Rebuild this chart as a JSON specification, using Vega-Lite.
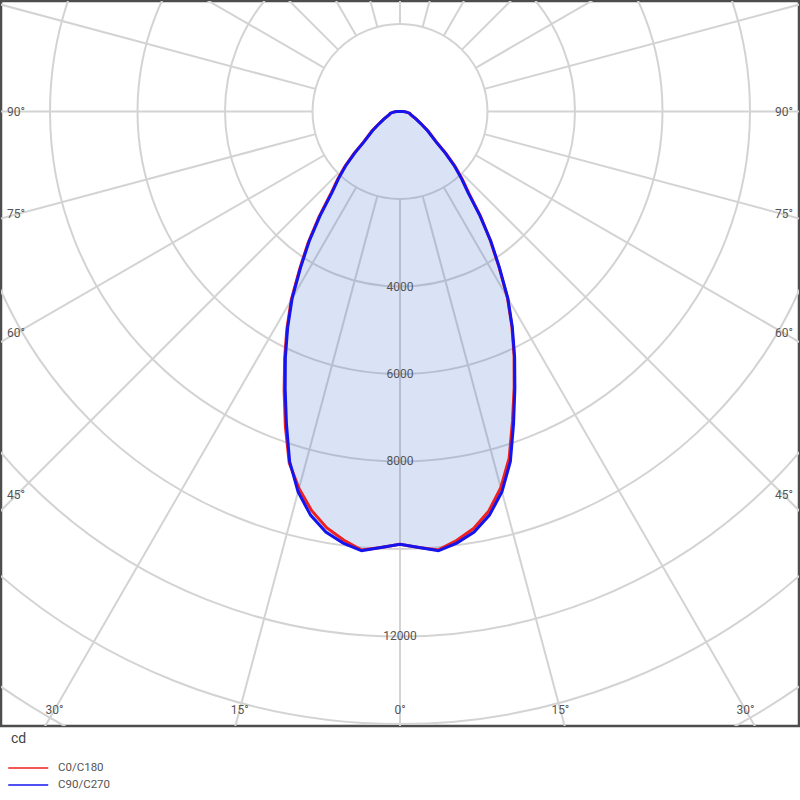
{
  "$schema": "https://vega.github.io/schema/vega-lite/v6.json",
  "width": 798,
  "height": 725,
  "padding": {"left": 1, "top": 1, "right": 1, "bottom": 6},
  "autosize": {"type": "pad"},
  "background": "white",
  "config": {"view": {"stroke": "#4d4d4d", "strokeWidth": 2.5}, "font": "Roboto"},
  "datasets": {
    "curves": [
      {"c": "C0/C180", "t": -180, "i": 0}, {"c": "C0/C180", "t": -90, "i": 80}, {"c": "C0/C180", "t": -85, "i": 150}, {"c": "C0/C180", "t": -80, "i": 220}, {"c": "C0/C180", "t": -75, "i": 250}, {"c": "C0/C180", "t": -70, "i": 300}, {"c": "C0/C180", "t": -65, "i": 410}, {"c": "C0/C180", "t": -60, "i": 550}, {"c": "C0/C180", "t": -55, "i": 790}, {"c": "C0/C180", "t": -50, "i": 1090}, {"c": "C0/C180", "t": -47.5, "i": 1430}, {"c": "C0/C180", "t": -45, "i": 1790}, {"c": "C0/C180", "t": -42.5, "i": 2120}, {"c": "C0/C180", "t": -40, "i": 2470}, {"c": "C0/C180", "t": -37.5, "i": 3050}, {"c": "C0/C180", "t": -35, "i": 3660}, {"c": "C0/C180", "t": -32.5, "i": 4270}, {"c": "C0/C180", "t": -30, "i": 4970}, {"c": "C0/C180", "t": -27.5, "i": 5600}, {"c": "C0/C180", "t": -25, "i": 6240}, {"c": "C0/C180", "t": -22.5, "i": 6920}, {"c": "C0/C180", "t": -20, "i": 7660}, {"c": "C0/C180", "t": -17.5, "i": 8420}, {"c": "C0/C180", "t": -15, "i": 8920}, {"c": "C0/C180", "t": -12.5, "i": 9340}, {"c": "C0/C180", "t": -10, "i": 9660}, {"c": "C0/C180", "t": -7.5, "i": 9880}, {"c": "C0/C180", "t": -5, "i": 10060}, {"c": "C0/C180", "t": -2.5, "i": 9975},
      {"c": "C0/C180", "t": 0, "i": 9890},
      {"c": "C0/C180", "t": 2.5, "i": 9975}, {"c": "C0/C180", "t": 5, "i": 10060}, {"c": "C0/C180", "t": 7.5, "i": 9890}, {"c": "C0/C180", "t": 10, "i": 9680}, {"c": "C0/C180", "t": 12.5, "i": 9360}, {"c": "C0/C180", "t": 15, "i": 8900}, {"c": "C0/C180", "t": 17.5, "i": 8300}, {"c": "C0/C180", "t": 20, "i": 7520}, {"c": "C0/C180", "t": 22.5, "i": 6820}, {"c": "C0/C180", "t": 25, "i": 6170}, {"c": "C0/C180", "t": 27.5, "i": 5540}, {"c": "C0/C180", "t": 30, "i": 4910}, {"c": "C0/C180", "t": 32.5, "i": 4210}, {"c": "C0/C180", "t": 35, "i": 3600}, {"c": "C0/C180", "t": 37.5, "i": 3030}, {"c": "C0/C180", "t": 40, "i": 2460}, {"c": "C0/C180", "t": 42.5, "i": 2120}, {"c": "C0/C180", "t": 45, "i": 1790}, {"c": "C0/C180", "t": 47.5, "i": 1430}, {"c": "C0/C180", "t": 50, "i": 1090}, {"c": "C0/C180", "t": 55, "i": 790}, {"c": "C0/C180", "t": 60, "i": 550}, {"c": "C0/C180", "t": 65, "i": 410}, {"c": "C0/C180", "t": 70, "i": 300}, {"c": "C0/C180", "t": 75, "i": 250}, {"c": "C0/C180", "t": 80, "i": 220}, {"c": "C0/C180", "t": 85, "i": 150}, {"c": "C0/C180", "t": 90, "i": 80}, {"c": "C0/C180", "t": 180, "i": 0},
      {"c": "C90/C270", "t": -180, "i": 0}, {"c": "C90/C270", "t": -90, "i": 80}, {"c": "C90/C270", "t": -85, "i": 150}, {"c": "C90/C270", "t": -80, "i": 220}, {"c": "C90/C270", "t": -75, "i": 250}, {"c": "C90/C270", "t": -70, "i": 300}, {"c": "C90/C270", "t": -65, "i": 400}, {"c": "C90/C270", "t": -60, "i": 540}, {"c": "C90/C270", "t": -55, "i": 770}, {"c": "C90/C270", "t": -50, "i": 1070}, {"c": "C90/C270", "t": -47.5, "i": 1400}, {"c": "C90/C270", "t": -45, "i": 1760}, {"c": "C90/C270", "t": -42.5, "i": 2080}, {"c": "C90/C270", "t": -40, "i": 2420}, {"c": "C90/C270", "t": -37.5, "i": 3000}, {"c": "C90/C270", "t": -35, "i": 3620}, {"c": "C90/C270", "t": -32.5, "i": 4230}, {"c": "C90/C270", "t": -30, "i": 4930}, {"c": "C90/C270", "t": -27.5, "i": 5560}, {"c": "C90/C270", "t": -25, "i": 6200}, {"c": "C90/C270", "t": -22.5, "i": 6860}, {"c": "C90/C270", "t": -20, "i": 7590}, {"c": "C90/C270", "t": -17.5, "i": 8390}, {"c": "C90/C270", "t": -15, "i": 9000}, {"c": "C90/C270", "t": -12.5, "i": 9450}, {"c": "C90/C270", "t": -10, "i": 9760}, {"c": "C90/C270", "t": -7.5, "i": 9950}, {"c": "C90/C270", "t": -5, "i": 10080}, {"c": "C90/C270", "t": -2.5, "i": 9975},
      {"c": "C90/C270", "t": 0, "i": 9890},
      {"c": "C90/C270", "t": 2.5, "i": 9975}, {"c": "C90/C270", "t": 5, "i": 10080}, {"c": "C90/C270", "t": 7.5, "i": 9950}, {"c": "C90/C270", "t": 10, "i": 9760}, {"c": "C90/C270", "t": 12.5, "i": 9450}, {"c": "C90/C270", "t": 15, "i": 9000}, {"c": "C90/C270", "t": 17.5, "i": 8390}, {"c": "C90/C270", "t": 20, "i": 7590}, {"c": "C90/C270", "t": 22.5, "i": 6860}, {"c": "C90/C270", "t": 25, "i": 6200}, {"c": "C90/C270", "t": 27.5, "i": 5560}, {"c": "C90/C270", "t": 30, "i": 4930}, {"c": "C90/C270", "t": 32.5, "i": 4230}, {"c": "C90/C270", "t": 35, "i": 3620}, {"c": "C90/C270", "t": 37.5, "i": 3000}, {"c": "C90/C270", "t": 40, "i": 2420}, {"c": "C90/C270", "t": 42.5, "i": 2080}, {"c": "C90/C270", "t": 45, "i": 1760}, {"c": "C90/C270", "t": 47.5, "i": 1400}, {"c": "C90/C270", "t": 50, "i": 1070}, {"c": "C90/C270", "t": 55, "i": 770}, {"c": "C90/C270", "t": 60, "i": 540}, {"c": "C90/C270", "t": 65, "i": 400}, {"c": "C90/C270", "t": 70, "i": 300}, {"c": "C90/C270", "t": 75, "i": 250}, {"c": "C90/C270", "t": 80, "i": 220}, {"c": "C90/C270", "t": 85, "i": 150}, {"c": "C90/C270", "t": 90, "i": 80}, {"c": "C90/C270", "t": 180, "i": 0}
    ]
  },
  "layer": [
    {
      "data": {"values": [{"r": 2000}, {"r": 4000}, {"r": 6000}, {"r": 8000}, {"r": 10000}, {"r": 12000}, {"r": 14000}, {"r": 16000}, {"r": 18000}]},
      "mark": {"type": "arc", "theta": 0, "theta2": 6.2832, "filled": false, "stroke": "#d3d3d3", "strokeWidth": 2, "clip": true},
      "encoding": {
        "x": {"datum": 0, "type": "quantitative", "scale": {"domain": [-9120, 9120], "nice": false, "zero": false}, "axis": null},
        "y": {"datum": 0, "type": "quantitative", "scale": {"domain": [-14046, 2526], "nice": false, "zero": false}, "axis": null},
        "radius": {"field": "r", "type": "quantitative", "stack": null, "scale": {"type": "linear", "domain": [0, 20000], "range": [0, 875], "zero": true, "nice": false}, "legend": null}
      }
    },
    {
      "data": {"values": [{"a": 0}, {"a": 15}, {"a": 30}, {"a": 45}, {"a": 60}, {"a": 75}, {"a": 90}, {"a": 105}, {"a": 120}, {"a": 135}, {"a": 150}, {"a": 165}, {"a": 180}, {"a": 195}, {"a": 210}, {"a": 225}, {"a": 240}, {"a": 255}, {"a": 270}, {"a": 285}, {"a": 300}, {"a": 315}, {"a": 330}, {"a": 345}]},
      "transform": [
        {"calculate": "2000*sin(datum.a*PI/180)", "as": "xa"},
        {"calculate": "-2000*cos(datum.a*PI/180)", "as": "ya"},
        {"calculate": "30000*sin(datum.a*PI/180)", "as": "xb"},
        {"calculate": "-30000*cos(datum.a*PI/180)", "as": "yb"}
      ],
      "mark": {"type": "rule", "stroke": "#d3d3d3", "strokeWidth": 2, "clip": true},
      "encoding": {
        "x": {"field": "xa", "type": "quantitative"},
        "y": {"field": "ya", "type": "quantitative"},
        "x2": {"field": "xb"},
        "y2": {"field": "yb"}
      }
    },
    {
      "data": {"name": "curves"},
      "transform": [
        {"filter": "datum.c == 'C90/C270'"},
        {"calculate": "datum.i*sin(datum.t*PI/180)", "as": "px"},
        {"calculate": "-datum.i*cos(datum.t*PI/180)", "as": "py"}
      ],
      "mark": {"type": "line", "filled": true, "fill": "#466ed2", "fillOpacity": 0.2, "strokeWidth": 0, "strokeOpacity": 0},
      "encoding": {
        "x": {"field": "px", "type": "quantitative"},
        "y": {"field": "py", "type": "quantitative"},
        "order": {"field": "t", "type": "quantitative"}
      }
    },
    {
      "data": {"values": [{"r": 4000}, {"r": 6000}, {"r": 8000}, {"r": 12000}]},
      "transform": [{"calculate": "-datum.r", "as": "yr"}, {"calculate": "0", "as": "xr"}],
      "mark": {"type": "text", "fontSize": 12, "color": "#555555", "align": "center", "baseline": "middle"},
      "encoding": {
        "x": {"field": "xr", "type": "quantitative"},
        "y": {"field": "yr", "type": "quantitative"},
        "text": {"field": "r", "type": "quantitative", "format": "d"}
      }
    },
    {
      "data": {"values": [
        {"lab": "90°", "a": -90, "e": "s"}, {"lab": "75°", "a": -75, "e": "s"}, {"lab": "60°", "a": -60, "e": "s"}, {"lab": "45°", "a": -45, "e": "s"},
        {"lab": "90°", "a": 90, "e": "s"}, {"lab": "75°", "a": 75, "e": "s"}, {"lab": "60°", "a": 60, "e": "s"}, {"lab": "45°", "a": 45, "e": "s"},
        {"lab": "30°", "a": -30, "e": "b"}, {"lab": "15°", "a": -15, "e": "b"}, {"lab": "0°", "a": 0, "e": "b"}, {"lab": "15°", "a": 15, "e": "b"}, {"lab": "30°", "a": 30, "e": "b"}
      ]},
      "transform": [
        {"calculate": "datum.e == 's' ? (datum.a < 0 ? -8777 : 8777) : 13680*tan(datum.a*PI/180)", "as": "lx"},
        {"calculate": "datum.e == 's' ? -8777/tan(abs(datum.a)*PI/180) : -13680", "as": "ly"}
      ],
      "mark": {"type": "text", "fontSize": 12, "color": "#555555", "align": "center", "baseline": "middle"},
      "encoding": {
        "x": {"field": "lx", "type": "quantitative"},
        "y": {"field": "ly", "type": "quantitative"},
        "text": {"field": "lab", "type": "nominal"}
      }
    },
    {
      "data": {"name": "curves"},
      "transform": [
        {"filter": "datum.c == 'C0/C180'"},
        {"calculate": "datum.i*sin(datum.t*PI/180)", "as": "px"},
        {"calculate": "-datum.i*cos(datum.t*PI/180)", "as": "py"}
      ],
      "mark": {"type": "line", "strokeWidth": 3},
      "encoding": {
        "x": {"field": "px", "type": "quantitative"},
        "y": {"field": "py", "type": "quantitative"},
        "order": {"field": "t", "type": "quantitative"},
        "color": {
          "field": "c", "type": "nominal",
          "scale": {"domain": ["C0/C180", "C90/C270"], "range": ["#ee2020", "#1414ee"]},
          "legend": {
            "title": "cd", "orient": "none", "legendX": 10, "legendY": 731, "padding": 0,
            "symbolType": "M-1.75,0H6.25", "symbolSize": 100, "symbolStrokeWidth": 1.5,
            "labelFontSize": 11.5, "labelColor": "#555555", "labelOffset": 35,
            "titleFontSize": 14, "titleColor": "#444444", "titleFontWeight": "normal", "titlePadding": 16,
            "rowPadding": 5
          }
        }
      }
    },
    {
      "data": {"name": "curves"},
      "transform": [
        {"filter": "datum.c == 'C90/C270'"},
        {"calculate": "datum.i*sin(datum.t*PI/180)", "as": "px"},
        {"calculate": "-datum.i*cos(datum.t*PI/180)", "as": "py"}
      ],
      "mark": {"type": "line", "strokeWidth": 3},
      "encoding": {
        "x": {"field": "px", "type": "quantitative"},
        "y": {"field": "py", "type": "quantitative"},
        "order": {"field": "t", "type": "quantitative"},
        "color": {"field": "c", "type": "nominal"}
      }
    }
  ]
}
